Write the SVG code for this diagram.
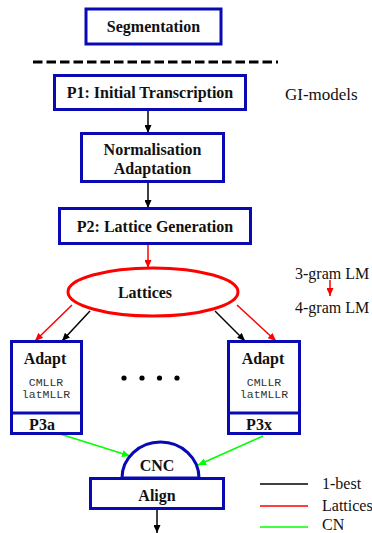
<svg xmlns="http://www.w3.org/2000/svg" width="372" height="533" viewBox="0 0 372 533">
<style>
.box{fill:#fff;stroke:#0a0ab4;stroke-width:3}
.lbl{font-family:"Liberation Serif","Times New Roman",serif;font-weight:bold;font-size:16px;fill:#111;text-anchor:middle}
.side{font-family:"Liberation Serif","Times New Roman",serif;font-size:16px;fill:#111}
.mono{font-family:"Liberation Mono",monospace;font-size:11.5px;fill:#333;text-anchor:middle}
.k{stroke:#000;stroke-width:1.5;fill:none}
.r{stroke:#f00;stroke-width:1.5;fill:none}
.g{stroke:#0f0;stroke-width:1.5;fill:none}
</style>
<defs>
<marker id="ak" markerUnits="userSpaceOnUse" markerWidth="8" markerHeight="7" refX="8" refY="3.5" orient="auto"><path d="M0,0 L8,3.5 L0,7 z" fill="#000"/></marker>
<marker id="ar" markerUnits="userSpaceOnUse" markerWidth="8" markerHeight="7" refX="8" refY="3.5" orient="auto"><path d="M0,0 L8,3.5 L0,7 z" fill="#f00"/></marker>
<marker id="ag" markerUnits="userSpaceOnUse" markerWidth="8" markerHeight="7" refX="8" refY="3.5" orient="auto"><path d="M0,0 L8,3.5 L0,7 z" fill="#0f0"/></marker>
</defs>
<line x1="33" y1="62" x2="278" y2="62" stroke="#000" stroke-width="3" stroke-dasharray="9.5,4"/>
<g id="connectors">
<line class="k" x1="148" y1="110" x2="148" y2="133" marker-end="url(#ak)"/>
<line class="k" x1="148" y1="182" x2="148" y2="208" marker-end="url(#ak)"/>
<line class="r" x1="148" y1="244" x2="148" y2="268" marker-end="url(#ar)"/>
<line class="r" x1="72" y1="305" x2="35" y2="341" marker-end="url(#ar)"/>
<line class="k" x1="90" y1="311" x2="62" y2="341" marker-end="url(#ak)"/>
<line class="k" x1="215" y1="311" x2="245" y2="341" marker-end="url(#ak)"/>
<line class="r" x1="237" y1="305" x2="276" y2="341" marker-end="url(#ar)"/>
<line class="g" x1="60" y1="434" x2="130" y2="456" marker-end="url(#ag)"/>
<line class="g" x1="263" y1="436" x2="198" y2="465" marker-end="url(#ag)"/>
<line class="k" x1="157" y1="509" x2="157" y2="533" marker-end="url(#ak)"/>
<line class="r" x1="330" y1="280" x2="330" y2="296" marker-end="url(#ar)"/>
</g>
<g id="segmentation"><rect class="box" x="86" y="9" width="135" height="35"/><text class="lbl" x="153.5" y="32">Segmentation</text></g>
<g id="p1"><rect class="box" x="54.5" y="75.5" width="191" height="34"/><text class="lbl" x="150" y="98">P1: Initial Transcription</text></g>
<g id="gimodels"><text class="side" x="285" y="100" style="font-size:17px">GI-models</text></g>
<g id="norm"><rect class="box" x="81.5" y="133.5" width="142" height="48"/><text class="lbl" x="152.5" y="155">Normalisation</text><text class="lbl" x="152.5" y="174">Adaptation</text></g>
<g id="p2"><rect class="box" x="59.5" y="208.5" width="191" height="35"/><text class="lbl" x="155" y="232">P2: Lattice Generation</text></g>
<g id="lattices"><ellipse cx="153" cy="292" rx="85" ry="24" fill="#fff" stroke="#f00" stroke-width="3"/><text class="lbl" x="145" y="298">Lattices</text></g>
<g id="lm"><text class="side" x="295" y="279">3-gram LM</text><text class="side" x="295" y="313">4-gram LM</text></g>
<g id="p3a"><rect class="box" x="11.5" y="341.5" width="70" height="92"/><line x1="11.5" y1="413" x2="81.5" y2="413" stroke="#0a0ab4" stroke-width="3"/><text class="lbl" x="45" y="364">Adapt</text><text class="mono" x="46" y="386">CMLLR</text><text class="mono" x="46" y="398">latMLLR</text><text class="lbl" x="42" y="430">P3a</text></g>
<g id="dots" fill="#000"><circle cx="124" cy="378" r="2.6"/><circle cx="142" cy="378" r="2.6"/><circle cx="159.5" cy="378" r="2.6"/><circle cx="177" cy="378" r="2.6"/></g>
<g id="p3x"><rect class="box" x="228.5" y="341.5" width="71" height="92"/><line x1="228.5" y1="413" x2="299.5" y2="413" stroke="#0a0ab4" stroke-width="3"/><text class="lbl" x="263" y="364">Adapt</text><text class="mono" x="264" y="386">CMLLR</text><text class="mono" x="264" y="398">latMLLR</text><text class="lbl" x="259" y="430">P3x</text></g>
<g id="cnc"><path class="box" d="M122,478 A38.5,36 0 0 1 199,478 Z"/><text class="lbl" x="157" y="471">CNC</text></g>
<g id="align"><rect class="box" x="90.5" y="478.5" width="133" height="30"/><text class="lbl" x="157" y="501">Align</text></g>
<g id="legend">
<line x1="260" y1="484" x2="308" y2="484" stroke="#000" stroke-width="1.5"/><text class="side" x="322" y="489">1-best</text>
<line x1="260" y1="506" x2="308" y2="506" stroke="#f00" stroke-width="1.5"/><text class="side" x="322" y="511">Lattices</text>
<line x1="260" y1="527" x2="308" y2="527" stroke="#0f0" stroke-width="1.5"/><text class="side" x="322" y="530">CN</text>
</g>
</svg>
